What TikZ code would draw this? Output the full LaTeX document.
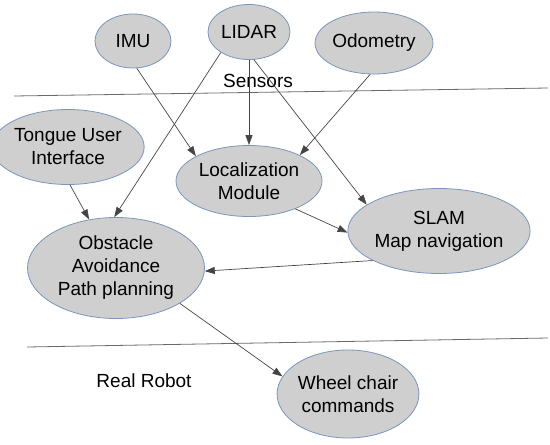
\documentclass[tikz,border=0pt]{standalone}
\usepackage{fontspec}
\setmainfont{Liberation Sans}
\usetikzlibrary{arrows.meta,shapes.geometric}
\definecolor{blobFill}{HTML}{CFCFCF}
\definecolor{blobEdge}{HTML}{7B95BB}
\definecolor{wireGray}{HTML}{454545}
\definecolor{rulerGray}{HTML}{6A6A6A}

\begin{document}
\begin{tikzpicture}[x=1pt,y=-1pt,
    every node/.style={font=\fontsize{19}{23}\selectfont,align=center,inner sep=0pt},
    blob/.style={ellipse,draw=blobEdge,fill=blobFill,line width=0.8pt},
    link/.style={draw=wireGray,line width=0.7pt,-{Triangle[length=10pt,width=7pt]}}]
  \useasboundingbox (0,0) rectangle (550,445);
  % sensors
  \node[blob,minimum width=76pt,minimum height=54pt] (imu) at (133,41) {IMU};
  \node[blob,minimum width=82pt,minimum height=55pt] (lidar) at (249,32) {LIDAR};
  \node[blob,minimum width=110pt,minimum height=62pt] (odom) at (374,43) {Odometry};
  \node (sensors) at (258,81) {Sensors};
  \draw[rulerGray,line width=0.8pt] (14,96) -- (548,88);
  % processing
  \node[blob,minimum width=125pt,minimum height=75pt] (tongue) at (68,147) {Tongue User\\Interface};
  \node[blob,minimum width=146pt,minimum height=71pt] (loc) at (249,181) {Localization\\Module};
  \node[blob,minimum width=181pt,minimum height=85pt] (slam) at (439,231) {SLAM\\Map navigation};
  \node[blob,minimum width=177pt,minimum height=101pt] (obst) at (116,268) {Obstacle\\Avoidance\\Path planning};
  \draw[rulerGray,line width=0.8pt] (27,347) -- (548,338);
  % robot
  \node (robot) at (144,381) {Real Robot};
  \node[blob,minimum width=138pt,minimum height=88pt] (wheel) at (348,394) {Wheel chair\\commands};

  \draw[link] (imu.-82) -- (loc.155);
  \draw[link] (lidar.216) -- (obst.92);
  \draw[link] (lidar.south) -- (loc.north);
  \draw[link] (lidar.-80) -- (slam.160);
  \draw[link] (odom.-97) -- (loc.27);
  \draw[link] (tongue.-87) -- (obst.119);
  \draw[link] (loc.-31) -- (slam.181);
  \draw[link] (slam.204) -- (obst.-2);
  \draw[link] (obst.-29) -- (wheel.165);
\end{tikzpicture}
\end{document}
